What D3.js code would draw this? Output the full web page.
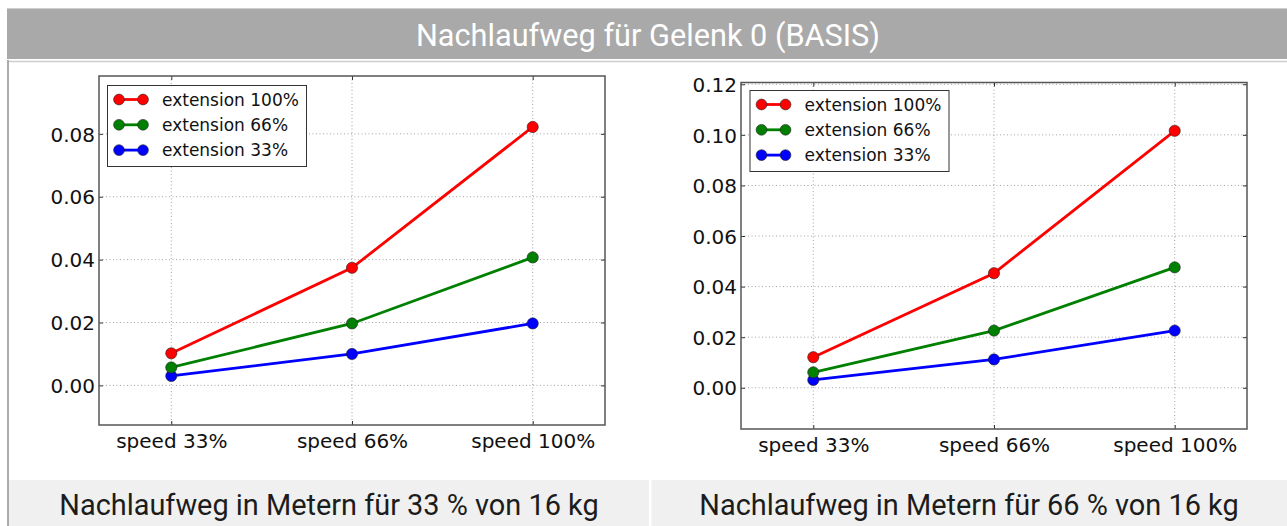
<!DOCTYPE html>
<html>
<head>
<meta charset="utf-8">
<script src="https://cdn.jsdelivr.net/npm/d3@7/dist/d3.min.js"></script>
<style>
  html, body { margin: 0; padding: 0; background: #fff; }
  svg { display: block; }
</style>
</head>
<body>
<svg id="chart" width="1287" height="526"></svg>
<script>
// ---- data ----
const categories = ["speed 33%", "speed 66%", "speed 100%"];
const seriesNames = ["extension 100%", "extension 66%", "extension 33%"];
const seriesColors = ["#ff0000", "#008000", "#0000ff"];

// payload 33 % of 16 kg
const left100 = [0.0102, 0.0374, 0.0822];
const left66  = [0.0057, 0.0197, 0.0407];
const left33  = [0.0030, 0.0100, 0.0197];

// payload 66 % of 16 kg
const right100 = [0.0121, 0.0453, 0.1016];
const right66  = [0.0061, 0.0226, 0.0476];
const right33  = [0.0031, 0.0112, 0.0226];

const leftTicks  = [0.00, 0.02, 0.04, 0.06, 0.08];
const rightTicks = [0.00, 0.02, 0.04, 0.06, 0.08, 0.10, 0.12];

const titleText = "Nachlaufweg für Gelenk 0 (BASIS)";
const captionLeft  = "Nachlaufweg in Metern für 33 % von 16 kg";
const captionRight = "Nachlaufweg in Metern für 66 % von 16 kg";

// ---- page frame ----
const svg = d3.select("#chart");
const W = 1287, H = 526;

svg.append("rect").attr("x", 7).attr("y", 8).attr("width", W - 7).attr("height", 51)
  .attr("fill", "#a9a9a9");
svg.append("line").attr("x1", 7).attr("x2", W).attr("y1", 8.5).attr("y2", 8.5)
  .attr("stroke", "#cfcfcf").attr("stroke-width", 1);
svg.append("line").attr("x1", 7).attr("x2", W).attr("y1", 61.5).attr("y2", 61.5)
  .attr("stroke", "#cdcdcd").attr("stroke-width", 1.5);
svg.append("text").attr("x", 648).attr("y", 45.5)
  .attr("text-anchor", "middle")
  .attr("font-family", "Roboto, sans-serif").attr("font-size", 30.7)
  .attr("fill", "#ffffff").text(titleText);

// caption bands
svg.append("rect").attr("x", 9).attr("y", 480).attr("width", 640).attr("height", 46).attr("fill", "#eff0ef");
svg.append("rect").attr("x", 651.5).attr("y", 480).attr("width", W - 651.5).attr("height", 46).attr("fill", "#eff0ef");
svg.append("text").attr("x", 329).attr("y", 515).attr("text-anchor", "middle")
  .attr("font-family", "Roboto, sans-serif").attr("font-size", 28.9)
  .attr("fill", "#1c1c1c").text(captionLeft);
svg.append("text").attr("x", 969).attr("y", 515).attr("text-anchor", "middle")
  .attr("font-family", "Roboto, sans-serif").attr("font-size", 28.9)
  .attr("fill", "#1c1c1c").text(captionRight);

// left border of the content panel
svg.append("line").attr("x1", 8).attr("x2", 8).attr("y1", 60).attr("y2", H)
  .attr("stroke", "#ababab").attr("stroke-width", 2);

// ---- one line chart panel ----
function drawPanel(box, yDomain, yTicks, series, legendPos) {
  const g = svg.append("g");
  const x = d3.scaleLinear().domain([-0.4, 2.4]).range([box.x0, box.x1]);
  const y = d3.scaleLinear().domain(yDomain).range([box.y1, box.y0]);
  const idx = categories.map((d, i) => i);

  // grid
  g.append("g").selectAll("line").data(yTicks).join("line")
    .attr("x1", box.x0).attr("x2", box.x1)
    .attr("y1", d => y(d)).attr("y2", d => y(d))
    .attr("stroke", "#8a8a8a").attr("stroke-width", 0.8).attr("stroke-dasharray", "1,2.5");
  g.append("g").selectAll("line").data(idx).join("line")
    .attr("x1", d => x(d)).attr("x2", d => x(d))
    .attr("y1", box.y0).attr("y2", box.y1)
    .attr("stroke", "#8a8a8a").attr("stroke-width", 0.8).attr("stroke-dasharray", "1,2.5");

  // axes with inward ticks on all four sides
  const font = "'DejaVu Sans', sans-serif";
  const yAxisL = d3.axisLeft(y).tickValues(yTicks).tickFormat(d3.format(".2f"))
    .tickSizeInner(-4).tickSizeOuter(0).tickPadding(4);
  const yAxisR = d3.axisRight(y).tickValues(yTicks).tickFormat("")
    .tickSizeInner(-4).tickSizeOuter(0);
  const xAxisB = d3.axisBottom(x).tickValues(idx).tickFormat(i => categories[i])
    .tickSizeInner(-4).tickSizeOuter(0).tickPadding(9);
  const xAxisT = d3.axisTop(x).tickValues(idx).tickFormat("")
    .tickSizeInner(-4).tickSizeOuter(0);

  const axes = [
    g.append("g").attr("transform", `translate(${box.x0},0)`).call(yAxisL),
    g.append("g").attr("transform", `translate(${box.x1},0)`).call(yAxisR),
    g.append("g").attr("transform", `translate(0,${box.y1})`).call(xAxisB),
    g.append("g").attr("transform", `translate(0,${box.y0})`).call(xAxisT)
  ];
  axes.forEach(a => {
    a.select(".domain").remove();
    a.selectAll(".tick line").attr("stroke", "#333").attr("stroke-width", 1);
    a.selectAll(".tick text").attr("font-family", font).attr("font-size", 20).attr("fill", "#111");
  });
  axes[0].selectAll(".tick text").attr("dy", "0.36em");
  axes[2].selectAll(".tick text").attr("dy", "0.72em");

  // frame
  g.append("rect").attr("x", box.x0).attr("y", box.y0)
    .attr("width", box.x1 - box.x0).attr("height", box.y1 - box.y0)
    .attr("fill", "none").attr("stroke", "#555").attr("stroke-width", 1.5);

  // lines + markers (draw lowest series first so red sits on top)
  const line = d3.line().x((d, i) => x(i)).y(d => y(d));
  series.slice().reverse().forEach((s, k) => {
    const si = series.length - 1 - k;
    g.append("path").datum(s).attr("d", line)
      .attr("fill", "none").attr("stroke", seriesColors[si]).attr("stroke-width", 2.8);
    g.append("g").selectAll("circle").data(s).join("circle")
      .attr("cx", (d, i) => x(i)).attr("cy", d => y(d)).attr("r", 5.6)
      .attr("fill", seriesColors[si]).attr("stroke", "#222").attr("stroke-width", 0.6);
  });

  // legend
  const lg = g.append("g").attr("transform", `translate(${legendPos.x},${legendPos.y})`);
  lg.append("rect").attr("x", 0.5).attr("y", 0.5).attr("width", 199).attr("height", 81)
    .attr("fill", "#fff").attr("stroke", "#333").attr("stroke-width", 1);
  seriesNames.forEach((name, i) => {
    const ry = 14.5 + i * 25.3;
    lg.append("line").attr("x1", 12).attr("x2", 36).attr("y1", ry).attr("y2", ry)
      .attr("stroke", seriesColors[i]).attr("stroke-width", 2.8);
    [12, 36].forEach(cx => lg.append("circle").attr("cx", cx).attr("cy", ry).attr("r", 5.4)
      .attr("fill", seriesColors[i]).attr("stroke", "#222").attr("stroke-width", 0.6));
    lg.append("text").attr("x", 55).attr("y", ry).attr("dy", "0.36em")
      .attr("font-family", font).attr("font-size", 17).attr("fill", "#111").text(name);
  });
}

drawPanel({ x0: 99, x1: 605, y0: 76, y1: 425 }, [-0.0126, 0.0984], leftTicks,
  [left100, left66, left33], { x: 107, y: 85 });
drawPanel({ x0: 741, x1: 1247, y0: 82.5, y1: 429 }, [-0.0163, 0.1207], rightTicks,
  [right100, right66, right33], { x: 749.5, y: 90 });
</script>
</body>
</html>
